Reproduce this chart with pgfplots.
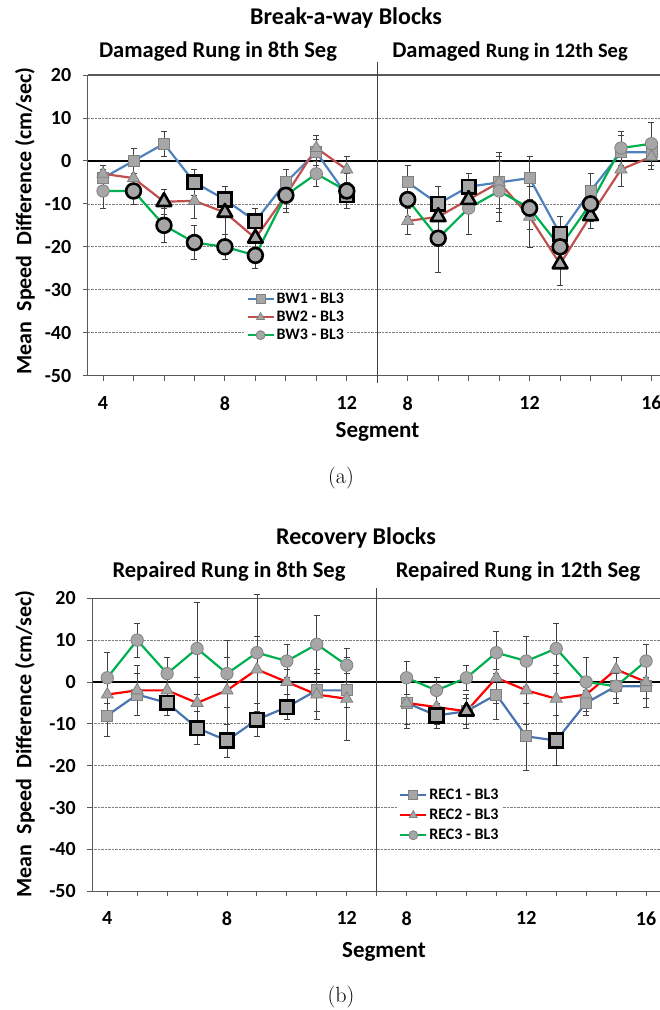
\documentclass[border=0pt]{standalone}
\usepackage{pgfplots}
\pgfplotsset{compat=1.18}
\usepackage{pgfplotstable}
\usepackage{fontspec}
\newfontfamily\carl{Carlito}
\newcommand{\cf}[1]{\carl\bfseries\fontsize{#1}{#1}\selectfont}

\definecolor{c1}{HTML}{4F81BD}
\definecolor{c2}{HTML}{C0504D}
\definecolor{c3}{HTML}{00B050}
\definecolor{r1}{HTML}{4A74B0}
\definecolor{r2}{HTML}{FF0000}
\definecolor{mfill}{HTML}{A6A6A6}
\definecolor{medge}{HTML}{808080}
\definecolor{axgray}{HTML}{595959}
\definecolor{errc}{HTML}{404040}

% pos 1-9 = seg 4-12 (rung in 8th), pos 11-19 = seg 8-16 (rung in 12th)
% bN = same value when the marker has a heavy outline, else nan
\pgfplotstableread{
pos a1 e1 b1 a2 e2 b2 a3 e3 b3
1 -4 2 nan -3 2 nan -7 4 nan
2 0 3 nan -4 3 nan -7 3 -7
3 4 3 nan -9.5 3 -9.5 -15 4 -15
4 -5 3 -5 -9.3 4 nan -19 4 -19
5 -9 3 -9 -12 5 -12 -20 3 -20
6 -14 3 -14 -18 3 -18 -22 3 -22
7 -5 3 nan -8 3 nan -8 4 -8
8 2 3 nan 3 3 nan -3 3 nan
9 -8 3 -8 -2 3 nan -7 4 -7
10 nan nan nan nan nan nan nan nan nan
11 -5 4 nan -14 3 nan -9 4 -9
12 -10 4 -10 -13 4 -13 -18 8 -18
13 -6 3 -6 -9 3 -9 -11 6 nan
14 -5 6 nan -5 7 nan -7 7 nan
15 -4 5 nan -13 7 nan -11 5 -11
16 -17 4 -17 -24 5 -24 -20 4 -20
17 -7 4 nan -12.8 3 -12.8 -10 4 -10
18 2 4 nan -2 4 nan 3 4 nan
19 2 3 nan 1 3 nan 4 5 nan
}\tabA

\pgfplotstableread{
pos a1 e1 b1 a2 e2 b2 a3 e3 b3
1 -8 5 nan -3 4 nan 1 6 nan
2 -3 5 nan -2 6 nan 10 4 nan
3 -5 3 -5 -2 3 nan 2 4 nan
4 -11 4 -11 -5 6 nan 8 11 nan
5 -14 4 -14 -2 8 nan 2 8 nan
6 -9 4 -9 3 8 nan 7 14 nan
7 -6 3 -6 0 3 nan 5 4 nan
8 -2 5 nan -3 6 nan 9 7 nan
9 -2 4 nan -4 10 nan 4 4 nan
10 nan nan nan nan nan nan nan nan nan
11 -5 6 nan -5 5 nan 1 4 nan
12 -8 3 -8 -6 4 nan -2 3 nan
13 -7 3 nan -7 4 -7 1 3 nan
14 -3 6 nan 1 6 nan 7 5 nan
15 -13 8 nan -2 8 nan 5 6 nan
16 -14 6 -14 -4 8 nan 8 6 nan
17 -5 3 nan -3 4 nan 0 6 nan
18 -1 4 nan 3 3 nan -1 3 nan
19 -1 5 nan 0 4 nan 5 4 nan
}\tabB

\pgfplotsset{
  panel/.style={
    scale only axis, clip=false, unbounded coords=jump,
    xmin=0.5, xmax=19.5, ymin=-50, ymax=20,
    axis x line*=bottom, axis y line*=left, axis line style={draw=none},
    xtick={1,...,19}, xticklabels={4,,,,8,,,,12,,8,,,,12,,,,16},
    ytick={-50,-40,...,20}, yticklabels={-50,-40,-30,-20,-10,0,10,20},
    tick align=outside, major tick length=5pt,
    tick style={axgray, line width=0.9pt},
    tick label style={font=\cf{20}},
    xticklabel style={yshift=-12pt}, yticklabel style={xshift=-8pt},
    ymajorgrids, grid style={densely dotted, medge, line width=0.7pt},
    legend cell align=left,
    legend image code/.code={\draw[mark repeat=2, mark phase=2, #1, mark size=4.5pt]
      plot coordinates {(0pt,0pt) (13pt,0pt) (26pt,0pt)};},
    error bars/y dir=both, error bars/y explicit,
    error bars/error bar style={errc, line width=0.6pt},
    error bars/error mark options={rotate=90, mark size=3pt, errc, line width=0.6pt},
  },
  ser/.style={line width=2.2pt, color=#1},
  sq/.style={mark=square*, mark size=5.5pt, mark options={fill=mfill, draw=medge, line width=0.8pt, solid}},
  tr/.style={mark=triangle*, mark size=7pt, mark options={fill=mfill, draw=medge, line width=0.8pt, solid}},
  ci/.style={mark=*, mark size=6.2pt, mark options={fill=mfill, draw=medge, line width=0.8pt, solid}},
  bsq/.style={only marks, forget plot, mark=square*, mark size=6.8pt, mark options={fill=mfill, draw=black, line width=2.6pt}},
  btr/.style={only marks, forget plot, mark=triangle*, mark size=8.5pt, mark options={fill=mfill, draw=black, line width=2.6pt, line join=round}},
  bci/.style={only marks, forget plot, mark=*, mark size=7.4pt, mark options={fill=mfill, draw=black, line width=2.6pt}},
}

\begin{document}
\begin{tikzpicture}[x=1pt,y=1pt]
% ---------- (a) Break-a-way ----------
\node[font=\cf{24}] at (346,992) {Break-a-way Blocks};
\node[font=\cf{22.5}] at (218,958) {Damaged Rung in 8th Seg};
\node[font=\cf{22.5}] at (510,958) {Damaged {\fontsize{20.5}{20.5}\selectfont Rung in 12th Seg}};
\node[font=\cf{22}, rotate=90] at (25,789) {Mean\ \ Speed\ \ Difference (cm/sec)};
\begin{axis}[panel, at={(87.8pt,634.3pt)}, anchor=south west, width=578.9pt, height=300.7pt,
  legend style={at={(0.272,0.285)}, anchor=north west, draw=none, fill=white,
    inner sep=1pt, row sep=2pt, font=\cf{16}}]
\draw[black, line width=1.8pt] (0.5,0) -- (19.5,0);
\draw[axgray, line width=1.3pt] (0.5,-50) -- (0.5,20) (0.5,20) -- (19.5,20) (0.5,-50) -- (19.5,-50);
\draw[errc, line width=0.8pt] (10,-51.6) -- (10,23);
\addplot[ser=c1, sq] table[x=pos, y=a1, y error=e1] {\tabA};
\addlegendentry{BW1 - BL3}
\addplot[ser=c2, tr] table[x=pos, y=a2, y error=e2] {\tabA};
\addlegendentry{BW2 - BL3}
\addplot[ser=c3, ci] table[x=pos, y=a3, y error=e3] {\tabA};
\addlegendentry{BW3 - BL3}
\addplot[bsq] table[x=pos, y=b1] {\tabA};
\addplot[btr] table[x=pos, y=b2] {\tabA};
\addplot[bci] table[x=pos, y=b3] {\tabA};
\end{axis}
\node[font=\cf{23}] at (377.5,578.3) {Segment};
\node[font=\fontsize{22}{22}\selectfont] at (341,532) {(a)};

% ---------- (b) Recovery ----------
\node[font=\cf{24}] at (356,472) {Recovery Blocks};
\node[font=\cf{22.5}] at (229,438.3) {Repaired Rung in 8th Seg};
\node[font=\cf{22.5}] at (518,438.3) {Repaired Rung in 12th Seg};
\node[font=\cf{22}, rotate=90] at (25,266) {Mean\ \ Speed\ \ Difference (cm/sec)};
\begin{axis}[panel, at={(92.3pt,118.8pt)}, anchor=south west, width=568.7pt, height=292.9pt,
  legend style={at={(0.5375,0.359)}, anchor=north west, draw=none, fill=white,
    inner sep=1pt, row sep=4pt, font=\cf{16}}]
\draw[black, line width=1.8pt] (0.5,0) -- (19.5,0);
\draw[axgray, line width=1.3pt] (0.5,-50) -- (0.5,20) (0.5,20) -- (19.5,20) (0.5,-50) -- (19.5,-50);
\draw[errc, line width=0.8pt] (10,-50) -- (10,22.5);
\addplot[ser=r1, sq] table[x=pos, y=a1, y error=e1] {\tabB};
\addlegendentry{REC1 - BL3}
\addplot[ser=r2, tr] table[x=pos, y=a2, y error=e2] {\tabB};
\addlegendentry{REC2 - BL3}
\addplot[ser=c3, ci] table[x=pos, y=a3, y error=e3] {\tabB};
\addlegendentry{REC3 - BL3}
\addplot[bsq] table[x=pos, y=b1] {\tabB};
\addplot[btr] table[x=pos, y=b2] {\tabB};
\addplot[bci] table[x=pos, y=b3] {\tabB};
\end{axis}
\node[font=\cf{23}] at (384,58.3) {Segment};
\node[font=\fontsize{22}{22}\selectfont] at (341,13.3) {(b)};
\pgfresetboundingbox
\useasboundingbox (0,0) rectangle (660,1010);
\end{tikzpicture}
\end{document}
